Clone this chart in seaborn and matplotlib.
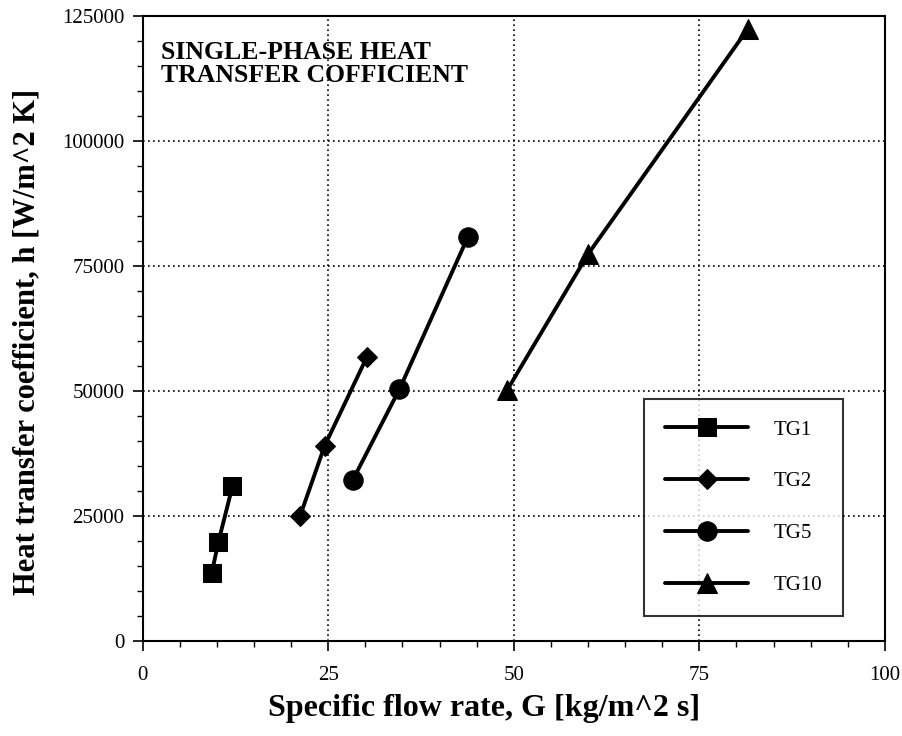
import matplotlib
matplotlib.use("Agg")
import matplotlib.pyplot as plt
import seaborn as sns
import pandas as pd
from matplotlib.ticker import MultipleLocator

series = ["TG1", "TG2", "TG5", "TG10"]
g_tg1 = [9.3, 10.2, 12.1]
h_tg1 = [13600, 19800, 31000]
g_tg2 = [21.2, 24.5, 30.2]
h_tg2 = [25000, 39000, 56800]
g_tg5 = [28.3, 34.6, 43.8]
h_tg5 = [32200, 50400, 80800]
g_tg10 = [49.1, 60.0, 81.5]
h_tg10 = [50200, 77400, 122400]

xs = [g_tg1, g_tg2, g_tg5, g_tg10]
ys = [h_tg1, h_tg2, h_tg5, h_tg10]
rows = []
for name, gx, hy in zip(series, xs, ys):
    for a, b in zip(gx, hy):
        rows.append({"G": a, "h": b, "series": name})
df = pd.DataFrame(rows)

sns.set_theme(style="ticks")
plt.rcParams["font.family"] = ["Liberation Serif", "DejaVu Serif"]
plt.rcParams.update({"text.color": "black", "axes.labelcolor": "black",
                     "xtick.color": "black", "ytick.color": "black"})

fig = plt.figure(figsize=(9.03, 7.36), dpi=100)
ax = fig.add_axes([0.158, 0.129, 0.822, 0.849])

markers = {"TG1": "s", "TG2": "D", "TG5": "o", "TG10": "^"}
sizes_m = {"TG1": 13, "TG2": 10, "TG5": 14, "TG10": 14}
for name in series:
    sub = df[df["series"] == name]
    sns.lineplot(data=sub, x="G", y="h", ax=ax, color="black", marker=markers[name],
                 markersize=sizes_m[name], markeredgecolor="black", linewidth=2.8,
                 label=name, sort=False, estimator=None)

ax.set_xlim(0, 100)
ax.set_ylim(0, 125000)
ax.xaxis.set_major_locator(MultipleLocator(25))
ax.xaxis.set_minor_locator(MultipleLocator(5))
ax.yaxis.set_major_locator(MultipleLocator(25000))
ax.yaxis.set_minor_locator(MultipleLocator(5000))
ax.grid(True, which="major", color="black", linestyle=(0, (1, 2)), linewidth=1.2)
ax.tick_params(which="major", direction="out", length=7, width=1.2, colors="black",
               labelsize=15, pad=6)
ax.tick_params(axis="x", which="major", pad=11)
ax.tick_params(which="minor", direction="out", length=4, width=1.0, colors="black")
for s in ax.spines.values():
    s.set_color("black")
    s.set_linewidth(1.5)
    s.set_visible(True)

ax.set_xlabel("Specific flow rate, G [kg/m^2 s]", fontsize=23, fontweight="bold")
ax.set_ylabel("Heat transfer coefficient, h [W/m^2 K]", fontsize=22, fontweight="bold")
ax.xaxis.set_label_coords(0.46, -0.085)
ax.yaxis.set_label_coords(-0.137, 0.478)

ax.text(0.025, 0.961, "SINGLE-PHASE HEAT\nTRANSFER COFFICIENT", transform=ax.transAxes,
        fontsize=18.5, fontweight="bold", va="top", ha="left", linespacing=1.05)

handles, labels = ax.get_legend_handles_labels()
leg = ax.legend(handles, labels, loc="lower right", bbox_to_anchor=(0.943, 0.04),
                frameon=True, fancybox=False, edgecolor="black", fontsize=15,
                handlelength=4.0, handletextpad=1.2, labelspacing=1.55,
                borderpad=1.0, borderaxespad=0, markerscale=1.0)
leg.get_frame().set_linewidth(1.5)

fig.savefig("out.png", dpi=100, facecolor="white")
